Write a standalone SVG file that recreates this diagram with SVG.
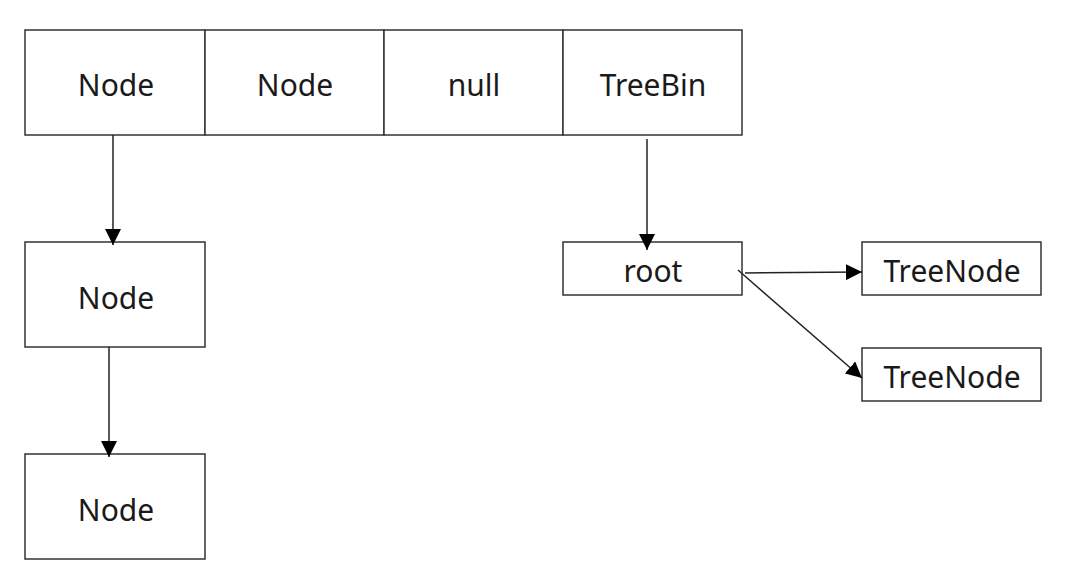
<svg xmlns="http://www.w3.org/2000/svg" width="1067" height="570" viewBox="0 0 1067 570">
<style>
.box{fill:#fff;stroke:#333;stroke-width:1.5}
.t{font-family:"Noto Sans","Open Sans",sans-serif;font-size:30px;fill:#1a1a1a;text-anchor:middle;dominant-baseline:central}
.c{stroke:#222;stroke-width:1.5;fill:none}
</style>
<defs>
<marker id="ah" viewBox="0 0 16 16" refX="16" refY="8" markerWidth="16" markerHeight="16" markerUnits="userSpaceOnUse" orient="auto">
<path d="M0,0 L16,8 L0,16 Z" fill="#000"/>
</marker>
</defs>
<rect width="1067" height="570" fill="#fff"/>
<g id="n1"><rect class="box" x="25" y="30" width="180" height="105"/><text class="t" x="116" y="84">Node</text></g>
<g id="n2"><rect class="box" x="205" y="30" width="179" height="105"/><text class="t" x="295" y="84">Node</text></g>
<g id="n3"><rect class="box" x="384" y="30" width="179" height="105"/><text class="t" x="474" y="84">null</text></g>
<g id="n4"><rect class="box" x="563" y="30" width="179" height="105"/><text class="t" x="653" y="84">TreeBin</text></g>
<g id="n5"><rect class="box" x="25" y="242" width="180" height="105"/><text class="t" x="116" y="297">Node</text></g>
<g id="n6"><rect class="box" x="25" y="454" width="180" height="105"/><text class="t" x="116" y="509">Node</text></g>
<g id="n7"><rect class="box" x="563" y="242" width="179" height="53"/><text class="t" x="653" y="270">root</text></g>
<g id="n8"><rect class="box" x="862" y="242" width="179" height="53"/><text class="t" x="952" y="270">TreeNode</text></g>
<g id="n9"><rect class="box" x="862" y="348" width="179" height="53"/><text class="t" x="952" y="376">TreeNode</text></g>
<g id="connectors">
<line class="c" x1="113" y1="135" x2="113" y2="245" marker-end="url(#ah)"/>
<line class="c" x1="109" y1="347" x2="109" y2="457" marker-end="url(#ah)"/>
<line class="c" x1="647" y1="139" x2="647" y2="250" marker-end="url(#ah)"/>
<line class="c" x1="745" y1="273" x2="862" y2="272" marker-end="url(#ah)"/>
<line class="c" x1="738" y1="270" x2="862" y2="378" marker-end="url(#ah)"/>
</g>
</svg>
